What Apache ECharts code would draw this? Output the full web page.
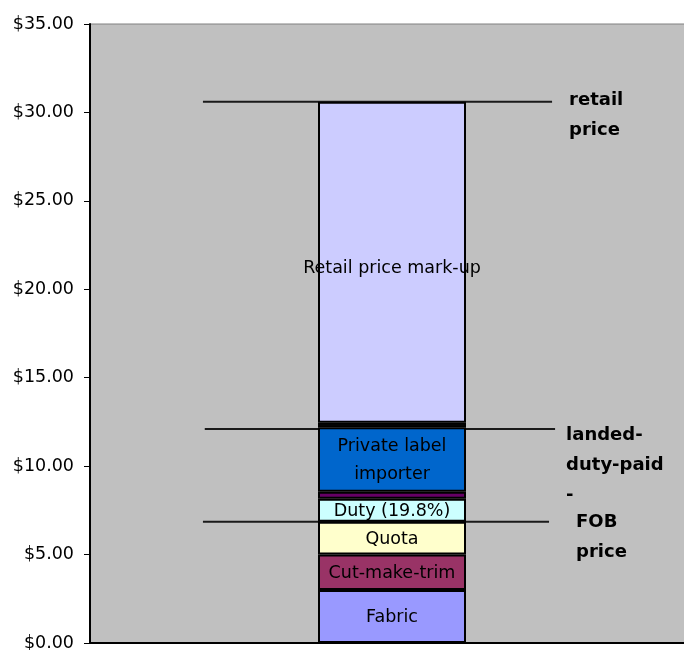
<!DOCTYPE html>
<html>
<head>
<meta charset="utf-8">
<script src="https://cdn.jsdelivr.net/npm/echarts@6/dist/echarts.min.js"></script>
<style>html,body{margin:0;padding:0;background:#fff;overflow:hidden;width:684px;height:650px;}#c{width:694px;height:650px;}</style>
</head>
<body>
<div id="c"></div>
<script>
var categories = [''];
var segmentNames = ['Fabric', 'Cut-make-trim', 'Quota', 'Duty (19.8%)', 'Other', 'Private label\nimporter', 'Other2', 'Retail price mark-up'];
var segmentValues = [3.0, 2.0, 1.85, 1.3, 0.4, 3.65, 0.25, 18.15];
var segmentShowLabel = [true, true, true, true, false, true, false, true];
var segmentColors = ['#9999FF', '#993366', '#FFFFCC', '#CCFFFF', '#660066', '#0066CC', '#101010', '#CCCCFF'];
var refNames = ['retail\nprice', 'landed-\nduty-paid\n-', 'FOB\nprice'];
var refValues = [30.6, 12.1, 6.85];
var refStart = [0.187, 0.19, 0.187];
var refEnd = [0.765, 0.77, 0.76];
var yTicks = [0, 5, 10, 15, 20, 25, 30, 35];

var FONT = '"DejaVu Sans", Verdana, sans-serif';
var series = [];
var labelOffsets = [[0, 14], [0, 36], [0, 15]];
var labelDist = [17, 11, 27];
for (var i = 0; i < refValues.length; i++) {
  series.push({
    type: 'line', xAxisIndex: 1, yAxisIndex: 0, z: 1,
    symbol: 'none', silent: true,
    lineStyle: { color: '#1a1a1a', width: 2 },
    data: [[refStart[i], refValues[i]], [refEnd[i], refValues[i]]],
    endLabel: {
      show: true, formatter: refNames[i], color: '#000', fontFamily: FONT,
      fontWeight: 'bold', fontSize: 18, lineHeight: 30,
      distance: labelDist[i], offset: labelOffsets[i], align: 'left'
    }
  });
}
for (var j = 0; j < segmentValues.length; j++) {
  series.push({
    type: 'bar', stack: 'cost', xAxisIndex: 0, yAxisIndex: 0, z: 3,
    name: segmentNames[j], barWidth: 148,
    itemStyle: { color: segmentColors[j], borderColor: '#000', borderWidth: 2 },
    label: {
      show: segmentShowLabel[j], position: 'inside', formatter: segmentNames[j],
      color: '#000', fontFamily: FONT, fontSize: 17.5, lineHeight: 28,
      offset: [0, j === segmentValues.length - 1 ? 6 : 1]
    },
    data: [segmentValues[j]]
  });
}

var chart = echarts.init(document.getElementById('c'), null, { renderer: 'canvas' });
chart.setOption({
  animation: false,
  backgroundColor: '#fff',
  grid: { left: 90, right: 0, top: 24, bottom: 7, outerBoundsMode: 'none', containLabel: false,
    show: true, backgroundColor: '#C0C0C0', borderColor: '#808080', borderWidth: 1 },
  xAxis: [
    { type: 'category', data: categories, axisLabel: { show: false }, axisTick: { show: false },
      axisLine: { show: true, lineStyle: { color: '#000', width: 2 } } },
    { type: 'value', min: 0, max: 1, show: false }
  ],
  yAxis: [{
    type: 'value', min: yTicks[0], max: yTicks[yTicks.length - 1], interval: 5,
    splitLine: { show: false },
    axisLine: { show: true, lineStyle: { color: '#000', width: 2 } },
    axisTick: { show: true, length: 6, lineStyle: { color: '#000', width: 1 } },
    axisLabel: { color: '#000', fontFamily: FONT, fontSize: 17.5, margin: 16,
      formatter: function (v) { return '$' + v.toFixed(2); } }
  }],
  series: series
});
</script>
</body>
</html>
